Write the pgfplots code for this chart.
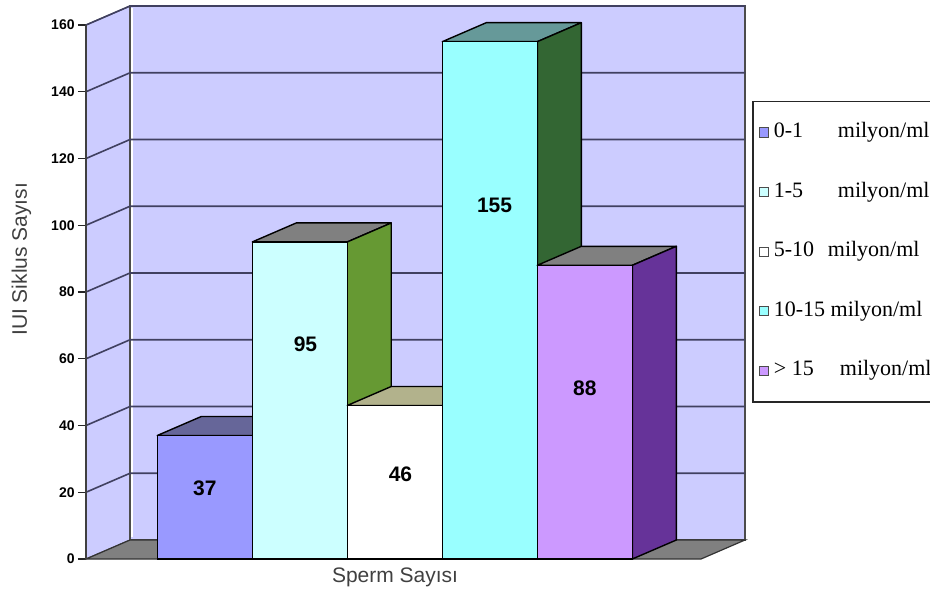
\documentclass[border=0pt]{standalone}
\usepackage{fontspec}
\setmainfont{Liberation Sans}
\newfontfamily\legfont{Liberation Serif}
\usepackage{pgfplots}
\pgfplotsset{compat=1.18}
\definecolor{wall}{HTML}{CCCCFF}
\definecolor{floorc}{HTML}{808080}
\definecolor{gridc}{HTML}{404060}
\definecolor{fA}{HTML}{9999FF}\definecolor{tA}{HTML}{666699}\definecolor{sA}{HTML}{333366}
\definecolor{fB}{HTML}{CCFFFF}\definecolor{tB}{HTML}{808080}\definecolor{sB}{HTML}{669933}
\definecolor{fC}{HTML}{FFFFFF}\definecolor{tC}{HTML}{B2B28C}\definecolor{sC}{HTML}{999966}
\definecolor{fD}{HTML}{99FFFF}\definecolor{tD}{HTML}{669999}\definecolor{sD}{HTML}{336633}
\definecolor{fE}{HTML}{CC99FF}\definecolor{tE}{HTML}{808080}\definecolor{sE}{HTML}{663399}
\pgfplotsset{
  sqleg/.style={legend image code/.code={\draw[##1,draw=black!70,line width=0.5pt] (0.5pt,-2.3pt) rectangle (5pt,2.3pt);}},
  face/.style={forget plot, draw=black, line width=0.7pt, line join=round},
  grid3d/.style={forget plot, draw=gridc, line width=0.8pt},
}
\begin{document}
\begin{tikzpicture}[x=1pt,y=1pt]
\useasboundingbox (0,0) rectangle (465,298);
\clip (0,0) rectangle (465,298);
\begin{axis}[
  at={(43pt,18.5pt)}, anchor=south west,
  scale only axis, width=329.5pt, height=276.5pt,
  xmin=-0.25, xmax=6.686, ymin=0, ymax=165.693,
  clip=false,
  axis lines=left, axis line style={draw=none,-},
  xtick=\empty,
  ytick={0,20,...,160},
  tick align=outside, major tick length=4pt,
  ytick style={draw=black!85, line width=0.6pt},
  /pgf/number format/assume math mode=true,
  yticklabel style={font=\fontsize{7}{8}\selectfont\bfseries, inner sep=1.5pt},
  xlabel={Sperm Sayısı},
  ylabel={IUI Siklus Sayısı},
  xlabel style={at={(axis description cs:0.469,-0.0326)}, anchor=center, font=\fontsize{10.5}{12}\selectfont, text=black!75},
  ylabel style={at={(axis description cs:-0.098,0.542)}, anchor=center, rotate=0, font=\fontsize{10.5}{12}\selectfont, text=black!75},
  legend style={at={(1.0106,0.8288)}, anchor=north west, draw=black!85, line width=0.9pt, fill=white,
    font=\legfont\fontsize{11}{12}\selectfont, inner xsep=3pt, inner ysep=10pt, row sep=18.8pt, column sep=1.5pt,
    nodes={inner sep=1pt, text height=7pt, text depth=2pt}},
  legend cell align=left,
]
% walls
\addplot[forget plot, fill=wall, draw=black!70, line width=0.6pt] coordinates {(-0.25,0) (0.2132,5.693) (0.2132,165.693) (-0.25,160)} -- cycle;
\addplot[forget plot, fill=wall, draw=black!70, line width=0.6pt] coordinates {(0.2132,5.693) (6.686,5.693) (6.686,165.693) (0.2132,165.693)} -- cycle;
\addplot[forget plot, draw=white, line width=1pt] coordinates {(0.232,6.5) (0.232,165)};
% gridlines
\addplot[grid3d] coordinates {(-0.25,20) (0.2132,25.693) (6.686,25.693)};
\addplot[grid3d] coordinates {(-0.25,40) (0.2132,45.693) (6.686,45.693)};
\addplot[grid3d] coordinates {(-0.25,60) (0.2132,65.693) (6.686,65.693)};
\addplot[grid3d] coordinates {(-0.25,80) (0.2132,85.693) (6.686,85.693)};
\addplot[grid3d] coordinates {(-0.25,100) (0.2132,105.693) (6.686,105.693)};
\addplot[grid3d] coordinates {(-0.25,120) (0.2132,125.693) (6.686,125.693)};
\addplot[grid3d] coordinates {(-0.25,140) (0.2132,145.693) (6.686,145.693)};
\addplot[grid3d] coordinates {(-0.25,160) (0.2132,165.693) (6.686,165.693)};
% floor
\addplot[forget plot, fill=floorc, draw=black!80, line width=0.6pt] coordinates {(-0.25,0) (6.2228,0) (6.686,5.693) (0.2132,5.693)} -- cycle;
% bar 1 : 37
\addplot[face, fill=tA] coordinates {(0.5,37) (1.5,37) (1.9632,42.693) (0.9632,42.693)} -- cycle;
\addplot[face, fill=sA] coordinates {(1.5,0) (1.9632,5.693) (1.9632,42.693) (1.5,37)} -- cycle;
\addplot[ybar, bar width=1, bar shift=0pt, fill=fA, draw=black, line width=0.7pt, sqleg] coordinates {(1,37)};
% bar 2 : 95
\addplot[face, fill=tB] coordinates {(1.5,95) (2.5,95) (2.9632,100.693) (1.9632,100.693)} -- cycle;
\addplot[face, fill=sB] coordinates {(2.5,0) (2.9632,5.693) (2.9632,100.693) (2.5,95)} -- cycle;
\addplot[ybar, bar width=1, bar shift=0pt, fill=fB, draw=black, line width=0.7pt, sqleg] coordinates {(2,95)};
% bar 3 : 46
\addplot[face, fill=tC] coordinates {(2.5,46) (3.5,46) (3.9632,51.693) (2.9632,51.693)} -- cycle;
\addplot[face, fill=sC] coordinates {(3.5,0) (3.9632,5.693) (3.9632,51.693) (3.5,46)} -- cycle;
\addplot[ybar, bar width=1, bar shift=0pt, fill=fC, draw=black, line width=0.7pt, sqleg] coordinates {(3,46)};
% bar 4 : 155
\addplot[face, fill=tD] coordinates {(3.5,155) (4.5,155) (4.9632,160.693) (3.9632,160.693)} -- cycle;
\addplot[face, fill=sD] coordinates {(4.5,0) (4.9632,5.693) (4.9632,160.693) (4.5,155)} -- cycle;
\addplot[ybar, bar width=1, bar shift=0pt, fill=fD, draw=black, line width=0.7pt, sqleg] coordinates {(4,155)};
% bar 5 : 88
\addplot[face, fill=tE] coordinates {(4.5,88) (5.5,88) (5.9632,93.693) (4.9632,93.693)} -- cycle;
\addplot[face, fill=sE] coordinates {(5.5,0) (5.9632,5.693) (5.9632,93.693) (5.5,88)} -- cycle;
\addplot[ybar, bar width=1, bar shift=0pt, fill=fE, draw=black, line width=0.7pt, sqleg] coordinates {(5,88)};
% front left edge
\addplot[forget plot, draw=black!75, line width=1pt] coordinates {(-0.25,0) (-0.25,160)};
% value labels
\addplot[forget plot, only marks, mark=none, point meta=explicit symbolic, nodes near coords,
  every node near coord/.append style={anchor=center, font=\fontsize{10.5}{12}\selectfont\bfseries, text=black}]
  coordinates {(1.0,21.3)[37] (2.06,64.4)[95] (3.06,25.5)[46] (4.05,106.1)[155] (5.0,51.2)[88]};
\legend{\makebox[32pt][l]{0-1}milyon/ml\hspace*{8pt}, \makebox[32pt][l]{1-5}milyon/ml\hspace*{8pt}, \makebox[27pt][l]{5-10}milyon/ml\hspace*{8pt}, 10-15 milyon/ml\hspace*{8pt}, \makebox[33pt][l]{> 15}milyon/ml\hspace*{8pt}}
\end{axis}
\end{tikzpicture}
\end{document}
